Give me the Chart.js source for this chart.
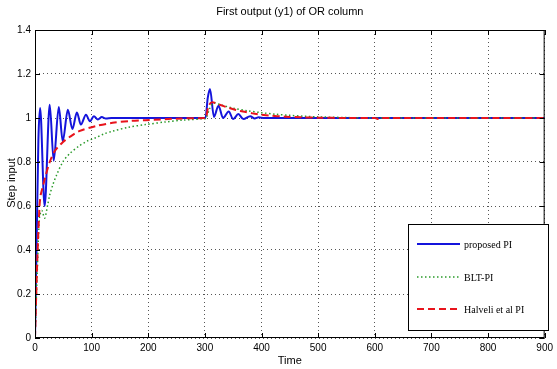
<!DOCTYPE html>
<html>
<head>
<meta charset="utf-8">
<script src="https://cdn.jsdelivr.net/npm/chart.js@4/dist/chart.umd.min.js"></script>
<style>
  body { margin: 0; background: #fff; }
  #wrap { position: relative; width: 557px; height: 369px; }
</style>
</head>
<body>
<div id="wrap"><canvas id="myChart" width="557" height="369"></canvas></div>
<script>
// data
const xTicks = [0, 100, 200, 300, 400, 500, 600, 700, 800, 900];
const yTicks = [0, 0.2, 0.4, 0.6, 0.8, 1, 1.2, 1.4];

const propT = [0, 3, 6, 9, 17, 26, 33, 42, 49, 58, 66, 74, 81, 90, 97, 104, 111, 118, 125, 135, 300, 301, 305, 309, 316, 324, 332, 342, 350, 359, 368, 380, 388, 395, 405, 900];
const propY = [0, 0.45, 0.9, 1.045, 0.6, 1.06, 0.806, 1.05, 0.895, 1.037, 0.95, 1.025, 0.97, 1.015, 0.985, 1.008, 0.993, 1.004, 0.998, 1.0, 1.0, 1.0, 1.09, 1.132, 1.005, 1.056, 1.0, 1.03, 0.995, 1.018, 0.995, 1.008, 0.998, 1.003, 1.0, 1.0];

const bltT = [0, 4, 8, 12, 17, 22, 26, 32, 38, 49, 62, 78, 92, 107, 122, 137, 165, 195, 230, 260, 300, 302, 308, 315, 330, 350, 375, 400, 425, 450, 475, 500, 550, 600, 900];
const bltY = [0, 0.3, 0.55, 0.58, 0.545, 0.6, 0.65, 0.7, 0.74, 0.8, 0.84, 0.873, 0.895, 0.91, 0.928, 0.94, 0.958, 0.97, 0.982, 0.99, 0.997, 0.998, 1.04, 1.068, 1.058, 1.045, 1.033, 1.024, 1.017, 1.012, 1.008, 1.005, 1.002, 1.0, 1.0];

const halT = [0, 4, 8, 10, 13, 18, 26, 35, 49, 62, 78, 107, 137, 170, 195, 250, 300, 302, 306, 312, 326, 340, 355, 370, 384, 400, 413, 442, 470, 500, 550, 600, 605, 610, 900];
const halY = [0, 0.35, 0.6, 0.65, 0.68, 0.73, 0.8, 0.85, 0.89, 0.915, 0.94, 0.963, 0.978, 0.987, 0.99, 0.997, 1.0, 1.0, 1.05, 1.071, 1.06, 1.048, 1.036, 1.028, 1.021, 1.015, 1.011, 1.006, 1.003, 1.0015, 1.0, 1.0, 0.996, 1.0, 1.0];

const legendNames = ["proposed PI", "BLT-PI", "Halveli et al PI"];
const colors = ["#1414dc", "#2a9a2a", "#e8141c"];

function pts(t, y) {
  var out = [];
  for (var i = 0; i < t.length; i++) out.push({x: t[i], y: y[i]});
  return out;
}

const labelFont = "'Liberation Sans Narrow', 'Liberation Sans', sans-serif";

// frame, inner ticks, texts, legend
const decor = {
  id: 'decor',
  afterDraw(chart) {
    const c = chart.ctx;
    const a = chart.chartArea;
    const xs = chart.scales.x, ys = chart.scales.y;
    c.save();
    c.strokeStyle = '#000';
    c.lineWidth = 1;
    c.setLineDash([]);
    c.strokeRect(a.left + 0.5, a.top + 0.5, a.right - a.left - 1, a.bottom - a.top - 1);
    c.beginPath();
    xTicks.forEach(function (v) {
      var px = Math.round(xs.getPixelForValue(v)) + 0.5;
      c.moveTo(px, a.bottom); c.lineTo(px, a.bottom - 5);
      c.moveTo(px, a.top); c.lineTo(px, a.top + 5);
    });
    yTicks.forEach(function (v) {
      var py = Math.round(ys.getPixelForValue(v)) + 0.5;
      c.moveTo(a.left, py); c.lineTo(a.left + 5, py);
      c.moveTo(a.right, py); c.lineTo(a.right - 5, py);
    });
    c.stroke();

    c.fillStyle = '#000';
    c.font = "11px " + labelFont;
    c.textAlign = 'center';
    c.textBaseline = 'middle';
    c.fillText("First output (y1) of OR column", (a.left + a.right) / 2, 12);
    c.fillText("Time", (a.left + a.right) / 2, 361);
    c.save();
    c.translate(12, 183);
    c.rotate(-Math.PI / 2);
    c.font = "11px 'Liberation Sans', sans-serif";
    c.fillText("Step input", 0, 0);
    c.restore();

    // legend box
    c.fillStyle = '#fff';
    c.fillRect(408, 224, 140, 106);
    c.strokeRect(408.5, 224.5, 140, 106);
    var rows = [244, 277, 309];
    var dashes = [[], [1.5, 2.5], [7, 4]];
    for (var i = 0; i < 3; i++) {
      c.beginPath();
      c.strokeStyle = colors[i];
      c.lineWidth = i == 1 ? 1.5 : 2;
      c.setLineDash(dashes[i]);
      c.moveTo(417, rows[i]); c.lineTo(460, rows[i]);
      c.stroke();
      c.setLineDash([]);
      c.fillStyle = '#000';
      c.font = "10px 'Liberation Serif', serif";
      c.textAlign = 'left';
      c.fillText(legendNames[i], 464, rows[i] + 1);
    }
    c.restore();
  }
};

new Chart(document.getElementById('myChart'), {
  type: 'line',
  data: {
    datasets: [
      {
        label: legendNames[2],
        data: pts(halT, halY),
        borderColor: colors[2],
        borderWidth: 2,
        borderDash: [7, 4],
        pointRadius: 0,
        tension: 0.3
      },
      {
        label: legendNames[1],
        data: pts(bltT, bltY),
        borderColor: colors[1],
        borderWidth: 1.5,
        borderDash: [1.5, 2.5],
        pointRadius: 0,
        tension: 0.3
      },
      {
        label: legendNames[0],
        data: pts(propT, propY),
        borderColor: colors[0],
        borderWidth: 2,
        pointRadius: 0,
        cubicInterpolationMode: 'monotone'
      }
    ]
  },
  options: {
    responsive: false,
    animation: false,
    layout: { padding: { top: 30, right: 4, left: 0, bottom: 0 } },
    plugins: { legend: { display: false }, tooltip: { enabled: false }, title: { display: false } },
    scales: {
      x: {
        type: 'linear',
        min: 0, max: 900,
        afterBuildTicks: function (s) { s.ticks = xTicks.map(function (v) { return {value: v}; }); },
        afterFit: function (s) { s.height = 31; },
        border: { display: false, dash: [1, 3] },
        grid: { color: '#555', drawTicks: false, lineWidth: 1 },
        ticks: { padding: 4, color: '#000', maxRotation: 0, font: { family: labelFont, size: 10 } }
      },
      y: {
        min: 0, max: 1.4,
        afterBuildTicks: function (s) { s.ticks = yTicks.map(function (v) { return {value: v}; }); },
        afterFit: function (s) { s.width = 35; },
        border: { display: false, dash: [1, 3] },
        grid: { color: '#555', drawTicks: false, lineWidth: 1 },
        ticks: {
          padding: 4, color: '#000', font: { family: labelFont, size: 10 },
          callback: function (v) { return +v.toFixed(1); }
        }
      }
    }
  },
  plugins: [decor]
});
</script>
</body>
</html>
